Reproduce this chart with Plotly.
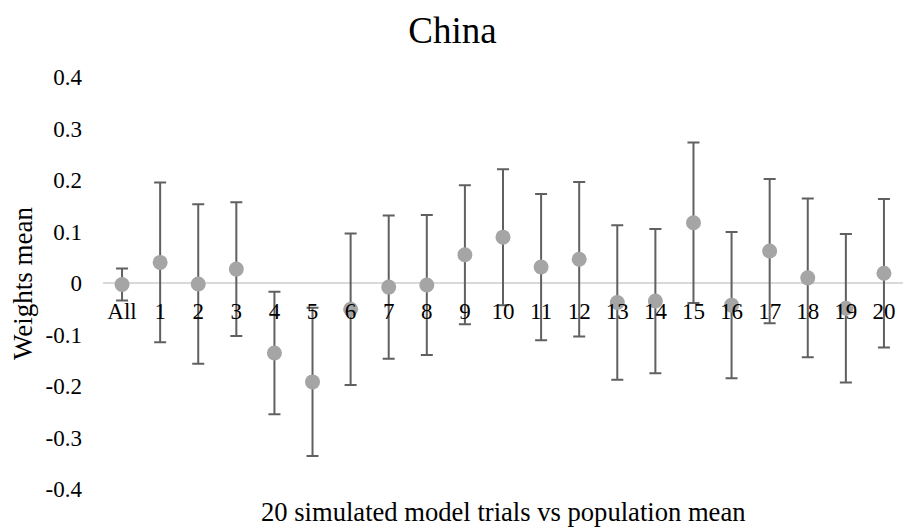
import plotly.graph_objects as go

categories = ["All"] + [str(i) for i in range(1, 21)]
means = [-0.003, 0.040, -0.002, 0.027, -0.136, -0.192, -0.051, -0.008, -0.004, 0.055,
         0.089, 0.031, 0.046, -0.038, -0.035, 0.117, -0.043, 0.062, 0.010, -0.049, 0.019]
errors = [0.031, 0.155, 0.155, 0.130, 0.119, 0.144, 0.147, 0.139, 0.136, 0.135,
          0.132, 0.142, 0.150, 0.150, 0.140, 0.156, 0.142, 0.140, 0.154, 0.144, 0.144]
y_ticks = [0.4, 0.3, 0.2, 0.1, 0, -0.1, -0.2, -0.3, -0.4]
y_ticktext = ["0.4", "0.3", "0.2", "0.1", "0", "-0.1", "-0.2", "-0.3", "-0.4"]

FONT = "Liberation Serif"
xs = list(range(len(categories)))

fig = go.Figure()
fig.add_trace(go.Scatter(
    x=xs, y=means, mode="markers",
    marker=dict(color="#a5a5a5", size=15),
    error_y=dict(type="data", array=errors, visible=True,
                 color="#606060", thickness=2, width=6),
    showlegend=False, hoverinfo="skip",
))

fig.update_layout(
    width=905, height=529,
    margin=dict(l=103, r=2, t=77, b=40),
    paper_bgcolor="white", plot_bgcolor="white",
    font=dict(family=FONT, color="black"),
    title=dict(text="China", x=0.5, xanchor="center", y=1 - 30 / 529, yanchor="middle",
               font=dict(size=37, family=FONT, color="black")),
    xaxis=dict(
        range=[-0.5, len(categories) - 0.5],
        tickvals=xs, ticktext=categories,
        anchor="free", position=0.5,
        showgrid=False, zeroline=False, showline=False,
        ticks="", tickfont=dict(size=23, family=FONT, color="black"),
        ticklabelstandoff=12,
    ),
    yaxis=dict(
        range=[-0.4, 0.4],
        tickvals=y_ticks, ticktext=y_ticktext,
        showgrid=False, zeroline=True, zerolinecolor="#d9d9d9", zerolinewidth=2,
        showline=False, ticks="",
        tickfont=dict(size=23, family=FONT, color="black"),
        ticklabelstandoff=20,
    ),
    annotations=[
        dict(text="Weights mean", xref="paper", yref="paper", x=(23 - 103) / 800, y=0.5,
             xanchor="center", yanchor="middle", textangle=-90, showarrow=False,
             font=dict(size=27, family=FONT, color="black")),
        dict(text="20 simulated model trials vs population mean", xref="paper", yref="paper",
             x=0.5, y=(489.4 - 512) / 412.8, xanchor="center", yanchor="middle", showarrow=False,
             font=dict(size=26.6, family=FONT, color="black")),
    ],
)

fig.write_html("out.html")
